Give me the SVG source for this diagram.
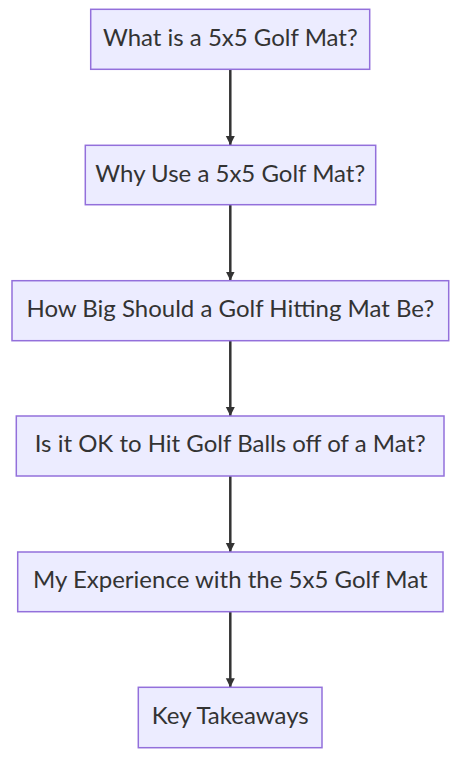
<svg xmlns="http://www.w3.org/2000/svg" width="460" height="758" viewBox="0 0 460 758">
<defs>
<style>
.node rect{fill:#ECECFF;stroke:#9370DB;stroke-width:1.5;}
.node text{font-family:"Lato","Open Sans",sans-serif;font-size:24px;fill:#333;text-anchor:middle;}
.edge{stroke:#333;stroke-width:2.5;fill:none;marker-end:url(#arr);}
</style>
<marker id="arr" viewBox="0 0 10 10" refX="10" refY="5" markerWidth="9" markerHeight="10" markerUnits="userSpaceOnUse" orient="auto">
<path d="M0,0 L10,5 L0,10 z" fill="#333"/>
</marker>
</defs>
<rect width="460" height="758" fill="#fff"/>
<g id="connectors">
<path class="edge" d="M230.3,69.3 V145"/>
<path class="edge" d="M230.3,204.7 V280.5"/>
<path class="edge" d="M230.3,340.7 V416"/>
<path class="edge" d="M230.3,476 V552"/>
<path class="edge" d="M230.3,611.7 V687.3"/>
</g>
<g id="n1" class="node"><rect x="90.7" y="9.3" width="279" height="60"/><text x="230.3" y="45.8">What is a 5x5 Golf Mat?</text></g>
<g id="n2" class="node"><rect x="85.3" y="145.3" width="290.4" height="59.4"/><text x="230.3" y="181.5">Why Use a 5x5 Golf Mat?</text></g>
<g id="n3" class="node"><rect x="12" y="280.7" width="436.7" height="60"/><text x="230.3" y="316.8">How Big Should a Golf Hitting Mat Be?</text></g>
<g id="n4" class="node"><rect x="16.3" y="416" width="427.7" height="60"/><text x="230.3" y="452.3">Is it OK to Hit Golf Balls off of a Mat?</text></g>
<g id="n5" class="node"><rect x="17.7" y="552" width="425.3" height="59.7"/><text x="230.3" y="588.1">My Experience with the 5x5 Golf Mat</text></g>
<g id="n6" class="node"><rect x="138.3" y="687.3" width="183.7" height="60.4"/><text x="230.3" y="723.8">Key Takeaways</text></g>
</svg>
